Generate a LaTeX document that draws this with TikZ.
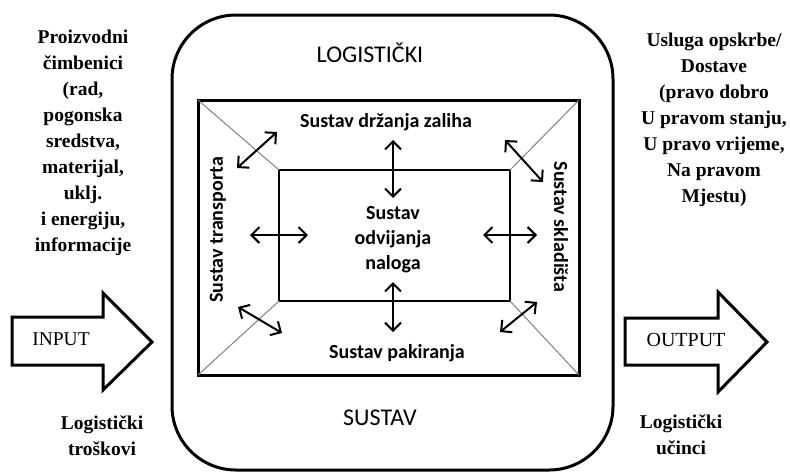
\documentclass[tikz,border=0pt]{standalone}
\usepackage{fontspec}
\setmainfont{Liberation Serif}
\newfontfamily\calfnt{Carlito}
\usetikzlibrary{arrows.meta}
\tikzset {>={Straight Barb[length=4pt,width=8pt]}}
\tikzset {side/.style={align=center,font=\bfseries\fontsize{9.75}{13}\selectfont},
  sys/.style={align=center,font=\calfnt\bfseries\fontsize{10}{12.5}\selectfont},
  big/.style={font=\calfnt\fontsize{12}{14}\selectfont},
  dbl/.style={<->,line width=1pt},
  blockarrow/.style={line width=1.5pt,line join=miter}}

\begin{document}
\begin{tikzpicture}[x=.5pt,y=-.5pt]
\useasboundingbox (0,0) rectangle (790,472);
% system frame
\draw[line width=1.5pt,rounded corners=32pt] (172,15) rectangle (613,470);
\node[big] (lg) at (370,53) {LOGISTIČKI};
\node[big] (su) at (380,418) {SUSTAV};
% square with inner box
\draw[line width=1.5pt] (198,100) rectangle (579,375);
\draw[line width=.6pt] (279,170) rectangle (510,301);
\draw[gray,line width=.5pt] (198,100) -- (279,170);
\draw[gray,line width=.5pt] (579,100) -- (510,170);
\draw[gray,line width=.5pt] (198,375) -- (279,301);
\draw[gray,line width=.5pt] (579,375) -- (510,301);
\node[sys] (zal) at (386,122) {Sustav držanja zaliha};
\node[sys] (pak) at (397,353) {Sustav pakiranja};
\node[sys,rotate=90] (tra) at (218,230) {Sustav transporta};
\node[sys,rotate=-90] (skl) at (561,227) {Sustav skladišta};
\node[sys] (nal) at (393,240) {Sustav\\odvijanja\\naloga};
% double arrows
\coordinate (a1) at (393,140); \coordinate (a2) at (393,198);
\coordinate (b1) at (393,282); \coordinate (b2) at (393,332);
\coordinate (c1) at (250,235); \coordinate (c2) at (308,235);
\coordinate (d1) at (483,235); \coordinate (d2) at (537,235);
\coordinate (e1) at (237,168); \coordinate (e2) at (277,132);
\coordinate (f1) at (505,140); \coordinate (f2) at (543,182);
\coordinate (g1) at (238,307); \coordinate (g2) at (282,333);
\coordinate (h1) at (500,332); \coordinate (h2) at (537,302);
\draw[dbl] (a1) -- (a2);
\draw[dbl] (b1) -- (b2);
\draw[dbl] (c1) -- (c2);
\draw[dbl] (d1) -- (d2);
\draw[dbl] (e1) -- (e2);
\draw[dbl] (f1) -- (f2);
\draw[dbl] (g1) -- (g2);
\draw[dbl] (h1) -- (h2);
% input side
\node[side] (prod) at (83,143) {Proizvodni\\čimbenici\\(rad,\\pogonska\\sredstva,\\materijal,\\uklj.\\i energiju,\\informacije};
\draw[blockarrow] (12,317) -- (103,317) -- (103,293) -- (152,342) -- (103,390) -- (103,365) -- (12,365) -- cycle;
\node[font=\fontsize{9.75}{12}\selectfont] (in) at (61,339) {INPUT};
\node[side] (tros) at (102,436) {Logistički\\troškovi};
% output side
\node[side] (usl) at (714,120) {Usluga opskrbe/\\Dostave\\(pravo dobro\\U pravom stanju,\\U pravo vrijeme,\\Na pravom\\Mjestu)};
\draw[blockarrow] (625,318) -- (718,318) -- (718,292) -- (767,342) -- (718,392) -- (718,365) -- (625,365) -- cycle;
\node[font=\fontsize{10}{12}\selectfont] (out) at (686,340) {OUTPUT};
\node[side] (uc) at (681,435) {Logistički\\učinci};
\end{tikzpicture}
\end{document}
